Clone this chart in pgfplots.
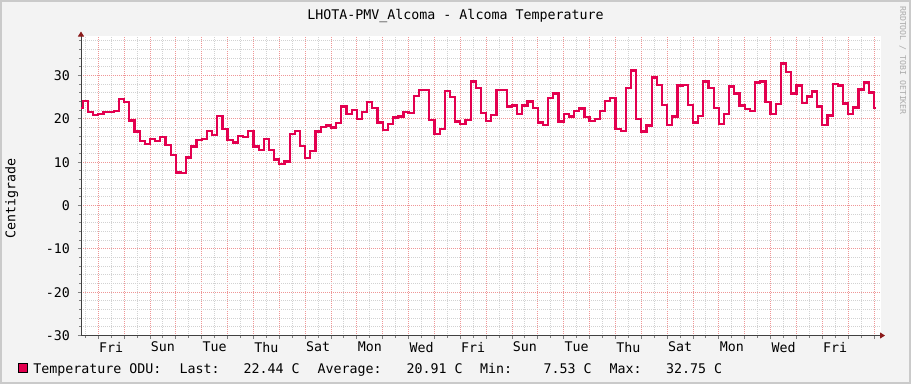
\documentclass[border=0pt]{standalone}
\usepackage{fontspec}
\usepackage{pgfplots}
\pgfplotsset{compat=1.18}
\usetikzlibrary{arrows.meta}
\newfontfamily\mono{DejaVu Sans Mono}
\definecolor{bg}{HTML}{F3F3F3}
\definecolor{framec}{HTML}{CACACA}
\definecolor{linec}{HTML}{E3004F}
\definecolor{majgrid}{HTML}{EF9696}
\definecolor{mingrid}{HTML}{D2D2D2}
\definecolor{axisc}{HTML}{404040}
\definecolor{arrowc}{HTML}{8B1A1A}
\definecolor{wmark}{HTML}{ABABAB}
\newcommand\tf{\mono\fontsize{13.3}{14}\selectfont}
\begin{document}
\begin{tikzpicture}[x=1pt,y=1pt]
\useasboundingbox (0,0) rectangle (911,384);
\fill[bg] (0,0) rectangle (911,384);
\draw[framec, line width=2pt] (1,1) rectangle (910,383);
\begin{axis}[
  at={(81pt,48.5pt)}, anchor=south west,
  scale only axis, width=800pt, height=300pt,
  xmin=-0.669, xmax=30.27, ymin=-30, ymax=39.23,
  axis lines=left,
  axis background/.style={fill=white},
  axis line style={draw=axisc, line width=1pt, shorten >=-4pt, -{Triangle[length=5pt,width=6pt,color=arrowc]}},
  grid=both,
  major grid style={draw=majgrid, line width=1pt, dash pattern=on 1pt off 1pt},
  minor grid style={draw=mingrid, line width=1pt, dash pattern=on 1pt off 1pt},
  tick align=outside,
  major tick length=3pt, minor tick length=2pt,
  tick style={draw=gray, line width=1pt},
  xtick={0,1,...,30}, xticklabels={},
  minor xtick={-0.5,0.5,...,29.5},
  extra x ticks={0.5,2.5,...,28.5},
  extra x tick labels={Fri,Sun,Tue,Thu,Sat,Mon,Wed,Fri,Sun,Tue,Thu,Sat,Mon,Wed,Fri},
  extra x tick style={grid=none, major tick length=0pt},
  ytick={-30,-20,...,30},
  yticklabels={-30,-20,-10,0,10,20,30},
  minor ytick={-28,-26,-24,-22,-18,-16,-14,-12,-8,-6,-4,-2,2,4,6,8,12,14,16,18,22,24,26,28,32,34,36,38},
  ticklabel style={font=\tf, text=black},
  xticklabel style={anchor=north, inner sep=0pt, yshift=-6.2pt},
  yticklabel style={anchor=east, inner sep=0pt, xshift=-8pt},
]
\addplot[const plot, draw=linec, line width=2.2pt, line join=miter] coordinates {
(-0.669,22.5) (-0.6,24.2) (-0.4,21.55) (-0.2,20.8)
(0,21.1) (0.2,21.5) (0.4,21.5) (0.6,21.85) (0.8,24.6)
(1,23.9) (1.2,19.6) (1.4,17.1) (1.6,14.8) (1.8,14.2)
(2,15.4) (2.2,14.8) (2.4,15.85) (2.6,14.0) (2.8,11.7)
(3,7.6) (3.2,7.53) (3.4,11.1) (3.6,13.6) (3.8,15.2)
(4,15.4) (4.2,17.2) (4.4,16.3) (4.6,20.7) (4.8,17.7)
(5,15.2) (5.2,14.55) (5.4,16.1) (5.6,15.85) (5.8,17.2)
(6,13.6) (6.2,12.85) (6.4,15.4) (6.6,12.85) (6.8,10.6)
(7,9.6) (7.2,10.15) (7.4,16.55) (7.6,17.25) (7.8,13.8)
(8,10.9) (8.2,12.5) (8.4,17.1) (8.6,18.2) (8.8,18.45)
(9,18.0) (9.2,19.0) (9.4,22.85) (9.6,21.1) (9.8,22.1)
(10,20.0) (10.2,21.5) (10.4,23.8) (10.6,22.5) (10.8,19.15)
(11,17.5) (11.2,18.8) (11.4,20.3) (11.6,20.55) (11.8,21.5)
(12,21.3) (12.2,25.3) (12.4,26.7) (12.6,26.7) (12.8,19.8)
(13,16.55) (13.2,17.7) (13.4,26.5) (13.6,25.1) (13.8,19.4)
(14,18.8) (14.2,19.8) (14.4,28.6) (14.6,27.15) (14.8,21.3)
(15,19.55) (15.2,20.9) (15.4,26.6) (15.6,26.6) (15.8,22.85)
(16,23.1) (16.2,21.15) (16.4,23.1) (16.6,24.0) (16.8,22.5)
(17,19.15) (17.2,18.6) (17.4,24.8) (17.6,25.85) (17.8,19.4)
(18,21.2) (18.2,20.55) (18.4,21.9) (18.6,22.4) (18.8,20.4)
(19,19.55) (19.2,20.0) (19.4,21.85) (19.6,24.15) (19.8,24.9)
(20,17.7) (20.2,17.25) (20.4,27.2) (20.6,31.15) (20.8,20.0)
(21,17.1) (21.2,18.45) (21.4,29.55) (21.6,27.85) (21.8,23.25)
(22,18.6) (22.2,20.55) (22.4,27.7) (22.6,27.85) (22.8,23.25)
(23,19.15) (23.2,20.7) (23.4,28.6) (23.6,27.2) (23.8,22.5)
(24,18.85) (24.2,21.1) (24.4,27.45) (24.6,25.85) (24.8,23.1)
(25,22.25) (25.2,21.9) (25.4,28.4) (25.6,28.6) (25.8,23.85)
(26,21.2) (26.2,23.4) (26.4,32.75) (26.6,30.8) (26.8,25.85)
(27,27.7) (27.2,23.7) (27.4,25.15) (27.6,26.3) (27.8,22.85)
(28,18.6) (28.2,20.75) (28.4,28.1) (28.6,27.7) (28.8,23.55)
(29,21.15) (29.2,22.6) (29.4,26.75) (29.6,28.4) (29.8,26.1)
(30,22.44) (30.06,22.44)
};
\end{axis}
\node[font=\tf, anchor=base, inner sep=0pt] at (455.5,364.7) {LHOTA-PMV\_Alcoma - Alcoma Temperature};
\node[font=\tf, rotate=90, anchor=base, inner sep=0pt] at (15.5,185.5) {Centigrade};
\node[font=\mono\fontsize{8.2}{9}\selectfont, text=wmark, rotate=-90, anchor=base west, inner sep=0pt] at (900,378) {RRDTOOL / TOBI OETIKER};
\filldraw[fill=linec, draw=black, line width=1pt] (18.5,11.2) rectangle (27.5,20.8);
\begin{scope}[every node/.style={font=\tf, anchor=base west, inner sep=0pt}]
\node at (33.2,10.7) {Temperature ODU:};
\node at (179.5,10.7) {Last:};
\node at (243.5,10.7) {22.44 C};
\node at (317.5,10.7) {Average:};
\node at (406.5,10.7) {20.91 C};
\node at (480,10.7) {Min:};
\node at (543.5,10.7) {7.53 C};
\node at (609.5,10.7) {Max:};
\node at (666,10.7) {32.75 C};
\end{scope}
\end{tikzpicture}
\end{document}
